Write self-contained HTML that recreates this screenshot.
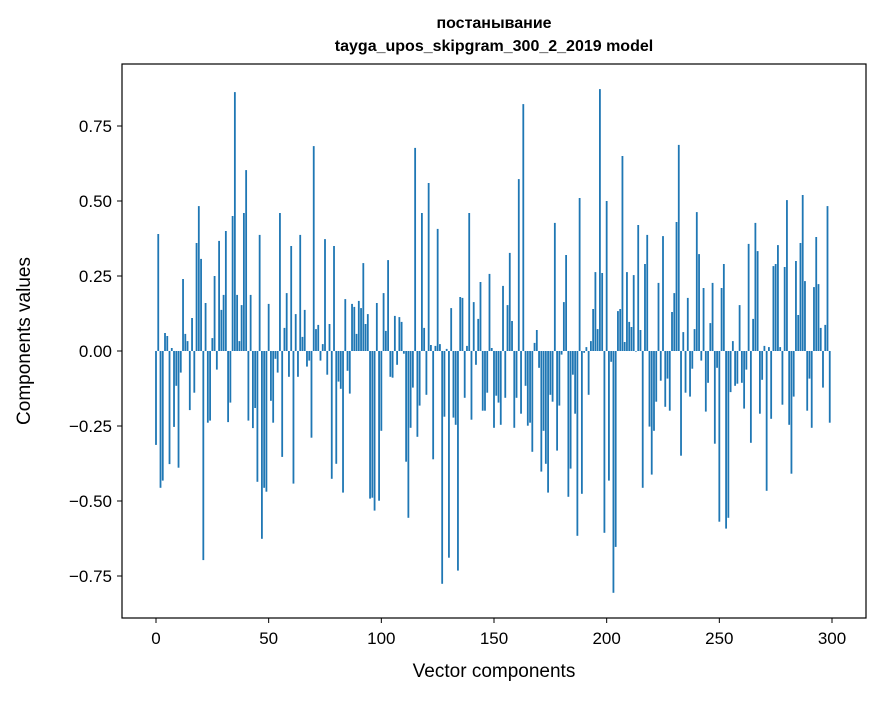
<!DOCTYPE html>
<html><head><meta charset="utf-8"><style>
body{margin:0;background:#fff}
svg text{font-family:"Liberation Sans","DejaVu Sans",sans-serif;fill:#000}
</style></head><body>
<svg id="chart" width="880" height="696" xmlns="http://www.w3.org/2000/svg">
<rect width="880" height="696" fill="#fff"/>
<text x="494" y="28" text-anchor="middle" font-size="16" font-weight="bold">постанывание</text>
<text x="494" y="51" text-anchor="middle" font-size="16" font-weight="bold">tayga_upos_skipgram_300_2_2019 model</text>
<g id="bars"></g>
<rect x="122" y="64" width="744" height="554" fill="none" stroke="#000" stroke-width="1.2"/>
<g id="xaxis"></g>
<g id="yaxis"></g>
<text x="494" y="677" text-anchor="middle" font-size="19">Vector components</text>
<text transform="translate(30,341) rotate(-90)" text-anchor="middle" font-size="19">Components values</text>
</svg>
<script>
const values = [-0.313,0.39,-0.456,-0.432,0.06,0.05,-0.377,0.01,-0.253,-0.116,
-0.389,-0.072,0.24,0.057,0.033,-0.197,0.11,-0.139,0.36,0.483,
0.307,-0.697,0.16,-0.239,-0.232,0.043,0.25,-0.062,0.367,0.137,
0.187,0.40,-0.237,-0.172,0.45,0.863,0.187,0.033,0.153,0.46,
0.603,-0.232,0.187,-0.257,-0.19,-0.436,0.387,-0.626,-0.456,-0.469,
0.157,-0.166,-0.239,-0.026,-0.072,0.46,-0.353,0.077,0.193,-0.086,
0.35,-0.442,0.123,-0.086,0.387,0.047,0.137,-0.052,-0.032,-0.289,
0.683,0.073,0.087,-0.032,0.023,0.373,-0.079,0.09,-0.426,0.35,
-0.376,-0.102,-0.126,-0.472,0.173,-0.066,-0.142,0.157,0.147,0.057,
0.167,0.143,0.293,0.09,0.123,-0.492,-0.489,-0.532,0.16,-0.499,
-0.266,0.193,0.067,0.303,-0.086,-0.089,0.117,-0.046,0.113,0.097,
-0.009,-0.369,-0.556,-0.256,-0.122,0.677,-0.286,-0.182,0.46,0.077,
-0.146,0.56,0.02,-0.361,0.017,0.407,0.023,-0.776,-0.219,0.007,
-0.689,0.143,-0.222,-0.246,-0.732,0.18,0.177,-0.156,0.017,0.46,
-0.229,0.163,-0.046,0.107,0.23,-0.199,-0.199,-0.139,0.257,0.01,
-0.256,-0.149,-0.172,-0.246,0.217,-0.156,0.153,0.327,0.1,-0.256,
-0.156,0.573,-0.209,0.823,-0.116,-0.249,-0.239,-0.336,0.027,0.07,
-0.056,-0.402,-0.266,-0.376,-0.472,-0.146,-0.169,0.427,-0.332,-0.182,
-0.012,0.163,0.32,-0.486,-0.392,-0.079,-0.209,-0.616,0.51,-0.476,
-0.006,0.013,-0.146,0.033,0.14,0.263,0.073,0.873,0.26,-0.606,
0.5,-0.432,-0.036,-0.806,-0.653,0.133,0.14,0.65,0.03,0.263,
0.097,0.08,0.253,-0.002,0.42,0.07,-0.456,0.29,0.387,-0.252,
-0.412,-0.266,-0.169,0.227,-0.099,0.383,-0.186,-0.092,-0.199,0.13,
0.193,0.43,0.687,-0.349,0.063,-0.139,0.177,-0.152,-0.059,0.073,
0.463,0.323,-0.032,0.21,-0.202,-0.106,0.093,0.227,-0.309,-0.056,
-0.569,0.21,0.29,-0.592,-0.556,-0.137,0.033,-0.116,-0.109,0.153,
-0.106,-0.192,-0.062,0.357,-0.306,0.107,0.427,0.333,-0.209,-0.096,
0.017,-0.466,0.013,-0.226,0.283,0.29,0.353,0.013,-0.179,0.28,
0.503,-0.246,-0.409,-0.152,0.3,0.12,0.36,0.52,0.233,-0.199,
-0.092,-0.256,0.213,0.38,0.223,0.077,-0.122,0.087,0.483,-0.239];
const xTicks = [0,50,100,150,200,250,300];
const yTicks = [0.75,0.5,0.25,0,-0.25,-0.5,-0.75];
const yTickLabels = ["0.75","0.50","0.25","0.00","\u22120.25","\u22120.50","\u22120.75"];

const NS="http://www.w3.org/2000/svg";
const xs = v => 156 + v*(676/300);
const ys = v => 351 - v*300;
const bars=document.getElementById('bars');
values.forEach((v,i)=>{
  const r=document.createElementNS(NS,'rect');
  const w=0.8*(676/300);
  r.setAttribute('x',xs(i)-w/2);
  r.setAttribute('y',Math.min(ys(v),ys(0)));
  r.setAttribute('width',w);
  r.setAttribute('height',Math.abs(ys(v)-ys(0)));
  r.setAttribute('fill','#1f77b4');
  
  
  bars.appendChild(r);
});
const xa=document.getElementById('xaxis');
xTicks.forEach(t=>{
  const l=document.createElementNS(NS,'line');
  l.setAttribute('x1',xs(t));l.setAttribute('x2',xs(t));
  l.setAttribute('y1',618);l.setAttribute('y2',623);
  l.setAttribute('stroke','#000');
  
  
  xa.appendChild(l);
  const tx=document.createElementNS(NS,'text');
  tx.setAttribute('x',xs(t));tx.setAttribute('y',644);
  tx.setAttribute('text-anchor','middle');tx.setAttribute('font-size','17');
  tx.textContent=t;
  
  
  xa.appendChild(tx);
});
const ya=document.getElementById('yaxis');
yTicks.forEach((t,k)=>{
  const l=document.createElementNS(NS,'line');
  l.setAttribute('x1',117);l.setAttribute('x2',122);
  l.setAttribute('y1',ys(t));l.setAttribute('y2',ys(t));
  l.setAttribute('stroke','#000');
  
  
  ya.appendChild(l);
  const tx=document.createElementNS(NS,'text');
  tx.setAttribute('x',112);tx.setAttribute('y',ys(t)+6);
  tx.setAttribute('text-anchor','end');tx.setAttribute('font-size','17');
  tx.textContent=yTickLabels[k];
  
  
  ya.appendChild(tx);
});
</script>
</body></html>
